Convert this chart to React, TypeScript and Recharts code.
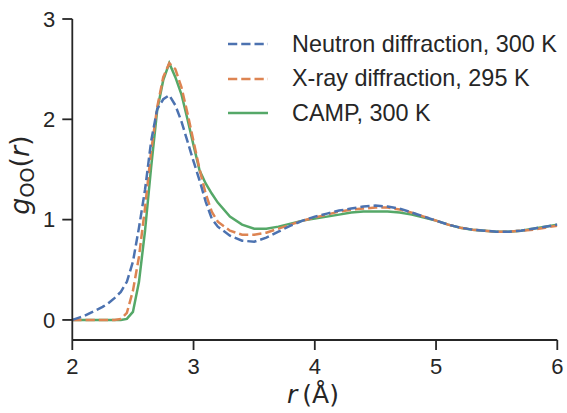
import React from 'react';
import { LineChart, Line, XAxis, YAxis } from 'recharts';

// r grid (Å): 0.05 steps through the first peak, 0.1 afterwards
const rValues = [
  2.0, 2.05, 2.1, 2.15, 2.2, 2.25, 2.3, 2.35, 2.4, 2.45, 2.5, 2.55, 2.6, 2.65, 2.7, 2.75,
  2.8, 2.85, 2.9, 2.95, 3.0, 3.05, 3.1, 3.15, 3.2, 3.3, 3.4, 3.5, 3.6, 3.7, 3.8, 3.9,
  4.0, 4.1, 4.2, 4.3, 4.4, 4.5, 4.6, 4.7, 4.8, 4.9, 5.0, 5.1, 5.2, 5.3, 5.4, 5.5,
  5.6, 5.7, 5.8, 5.9, 6.0,
];

const neutron = [
  0.0, 0.02, 0.04, 0.07, 0.1, 0.13, 0.17, 0.22, 0.28, 0.38, 0.58, 0.92, 1.3, 1.78, 2.1, 2.2,
  2.24, 2.14, 1.98, 1.78, 1.58, 1.39, 1.18, 1.01, 0.93, 0.84, 0.79, 0.78, 0.82, 0.88, 0.94, 0.99,
  1.03, 1.06, 1.09, 1.11, 1.13, 1.14, 1.13, 1.11, 1.07, 1.03, 0.99, 0.95, 0.92, 0.9, 0.89, 0.88,
  0.88, 0.89, 0.91, 0.93, 0.95,
];

const xray = [
  0.0, 0.0, 0.0, 0.0, 0.0, 0.0, 0.0, 0.0, 0.01, 0.07, 0.29, 0.63, 1.12, 1.68, 2.12, 2.42,
  2.56, 2.5, 2.32, 2.06, 1.78, 1.5, 1.26, 1.08, 0.98, 0.89, 0.85, 0.85, 0.87, 0.91, 0.95, 0.99,
  1.02, 1.05, 1.08, 1.1, 1.11, 1.12, 1.12, 1.1, 1.07, 1.03, 0.99, 0.95, 0.92, 0.9, 0.89, 0.88,
  0.88, 0.89, 0.9, 0.92, 0.94,
];

const camp = [
  0.0, 0.0, 0.0, 0.0, 0.0, 0.0, 0.0, 0.0, 0.0, 0.01, 0.08, 0.38, 0.89, 1.52, 2.09, 2.39,
  2.56, 2.42, 2.25, 2.0, 1.74, 1.49, 1.36, 1.26, 1.17, 1.03, 0.95, 0.91, 0.91, 0.93, 0.96, 0.99,
  1.01, 1.03, 1.05, 1.07, 1.08, 1.08, 1.08, 1.07, 1.05, 1.02, 0.99, 0.95, 0.92, 0.9, 0.89, 0.88,
  0.88, 0.89, 0.91, 0.93, 0.95,
];

const xTicks = [2, 3, 4, 5, 6];
const yTicks = [0, 1, 2, 3];

const seriesNames = ['Neutron diffraction, 300 K', 'X-ray diffraction, 295 K', 'CAMP, 300 K'];
const seriesColors = ['#4C72B0', '#DD8452', '#55A868'];
const seriesDashes = ['9.25 4', '9.25 4', undefined];

const data = rValues.map((r, i) => ({
  r,
  neutron: neutron[i],
  xray: xray[i],
  camp: camp[i],
}));

const FONT = '"Liberation Sans", Arial, Helvetica, sans-serif';
const MATH_FONT = '"DejaVu Sans", sans-serif';
const INK = '#262626';

const ChartLegend = () => (
  <div style={{ position: 'absolute', left: 228, top: 27, fontFamily: FONT, color: INK }}>
    {seriesNames.map((name, i) => (
      <div key={name} style={{ display: 'flex', alignItems: 'center', height: 34.5 }}>
        <svg width={40} height={10} style={{ marginRight: 24 }}>
          <line
            x1={0}
            y1={5}
            x2={40}
            y2={5}
            stroke={seriesColors[i]}
            strokeWidth={2.5}
            strokeDasharray={seriesDashes[i]}
          />
        </svg>
        <span style={{ fontSize: 23.4, lineHeight: '23px', whiteSpace: 'nowrap' }}>{name}</span>
      </div>
    ))}
  </div>
);

const App: React.FC = () => {
  return (
    <div style={{ position: 'absolute', left: 0, top: 0, width: 567, height: 413, background: '#fff' }}>
      <LineChart width={567} height={413} data={data} margin={{ top: 19, right: 9.7, bottom: 0, left: 0 }}>
        <XAxis
          dataKey="r"
          type="number"
          domain={[2, 6]}
          ticks={xTicks}
          allowDataOverflow
          height={73}
          stroke={INK}
          strokeWidth={1.8}
          tickSize={10}
          tickMargin={8}
          tick={{ fill: INK, fontSize: 22, fontFamily: FONT }}
        />
        <YAxis
          type="number"
          domain={[-0.2, 3]}
          ticks={yTicks}
          allowDataOverflow
          width={72.3}
          stroke={INK}
          strokeWidth={1.8}
          tickSize={10}
          tickMargin={7}
          tick={{ fill: INK, fontSize: 22, fontFamily: FONT }}
        />
        <Line
          dataKey="camp"
          type="linear"
          stroke={seriesColors[2]}
          strokeWidth={2.5}
          dot={false}
          isAnimationActive={false}
        />
        <Line
          dataKey="xray"
          type="linear"
          stroke={seriesColors[1]}
          strokeWidth={2.5}
          strokeDasharray={seriesDashes[1]}
          dot={false}
          isAnimationActive={false}
        />
        <Line
          dataKey="neutron"
          type="linear"
          stroke={seriesColors[0]}
          strokeWidth={2.5}
          strokeDasharray={seriesDashes[0]}
          dot={false}
          isAnimationActive={false}
        />
        {/* axis titles, mathtext-style */}
        <text x={313} y={402.5} textAnchor="middle" fontFamily={MATH_FONT} fontSize={25} fill={INK}>
          <tspan fontStyle="italic">r</tspan>
          <tspan>{'\u2009(Å)'}</tspan>
        </text>
        <text
          x={29}
          y={175}
          transform="rotate(-90, 29, 175)"
          textAnchor="middle"
          fontFamily={MATH_FONT}
          fontSize={27}
          fill={INK}
        >
          <tspan fontStyle="italic">g</tspan>
          <tspan fontSize={19} dy={5}>OO</tspan>
          <tspan dy={-5}>(</tspan>
          <tspan fontStyle="italic">r</tspan>
          <tspan>)</tspan>
        </text>
      </LineChart>
      <ChartLegend />
    </div>
  );
};

export default App;
